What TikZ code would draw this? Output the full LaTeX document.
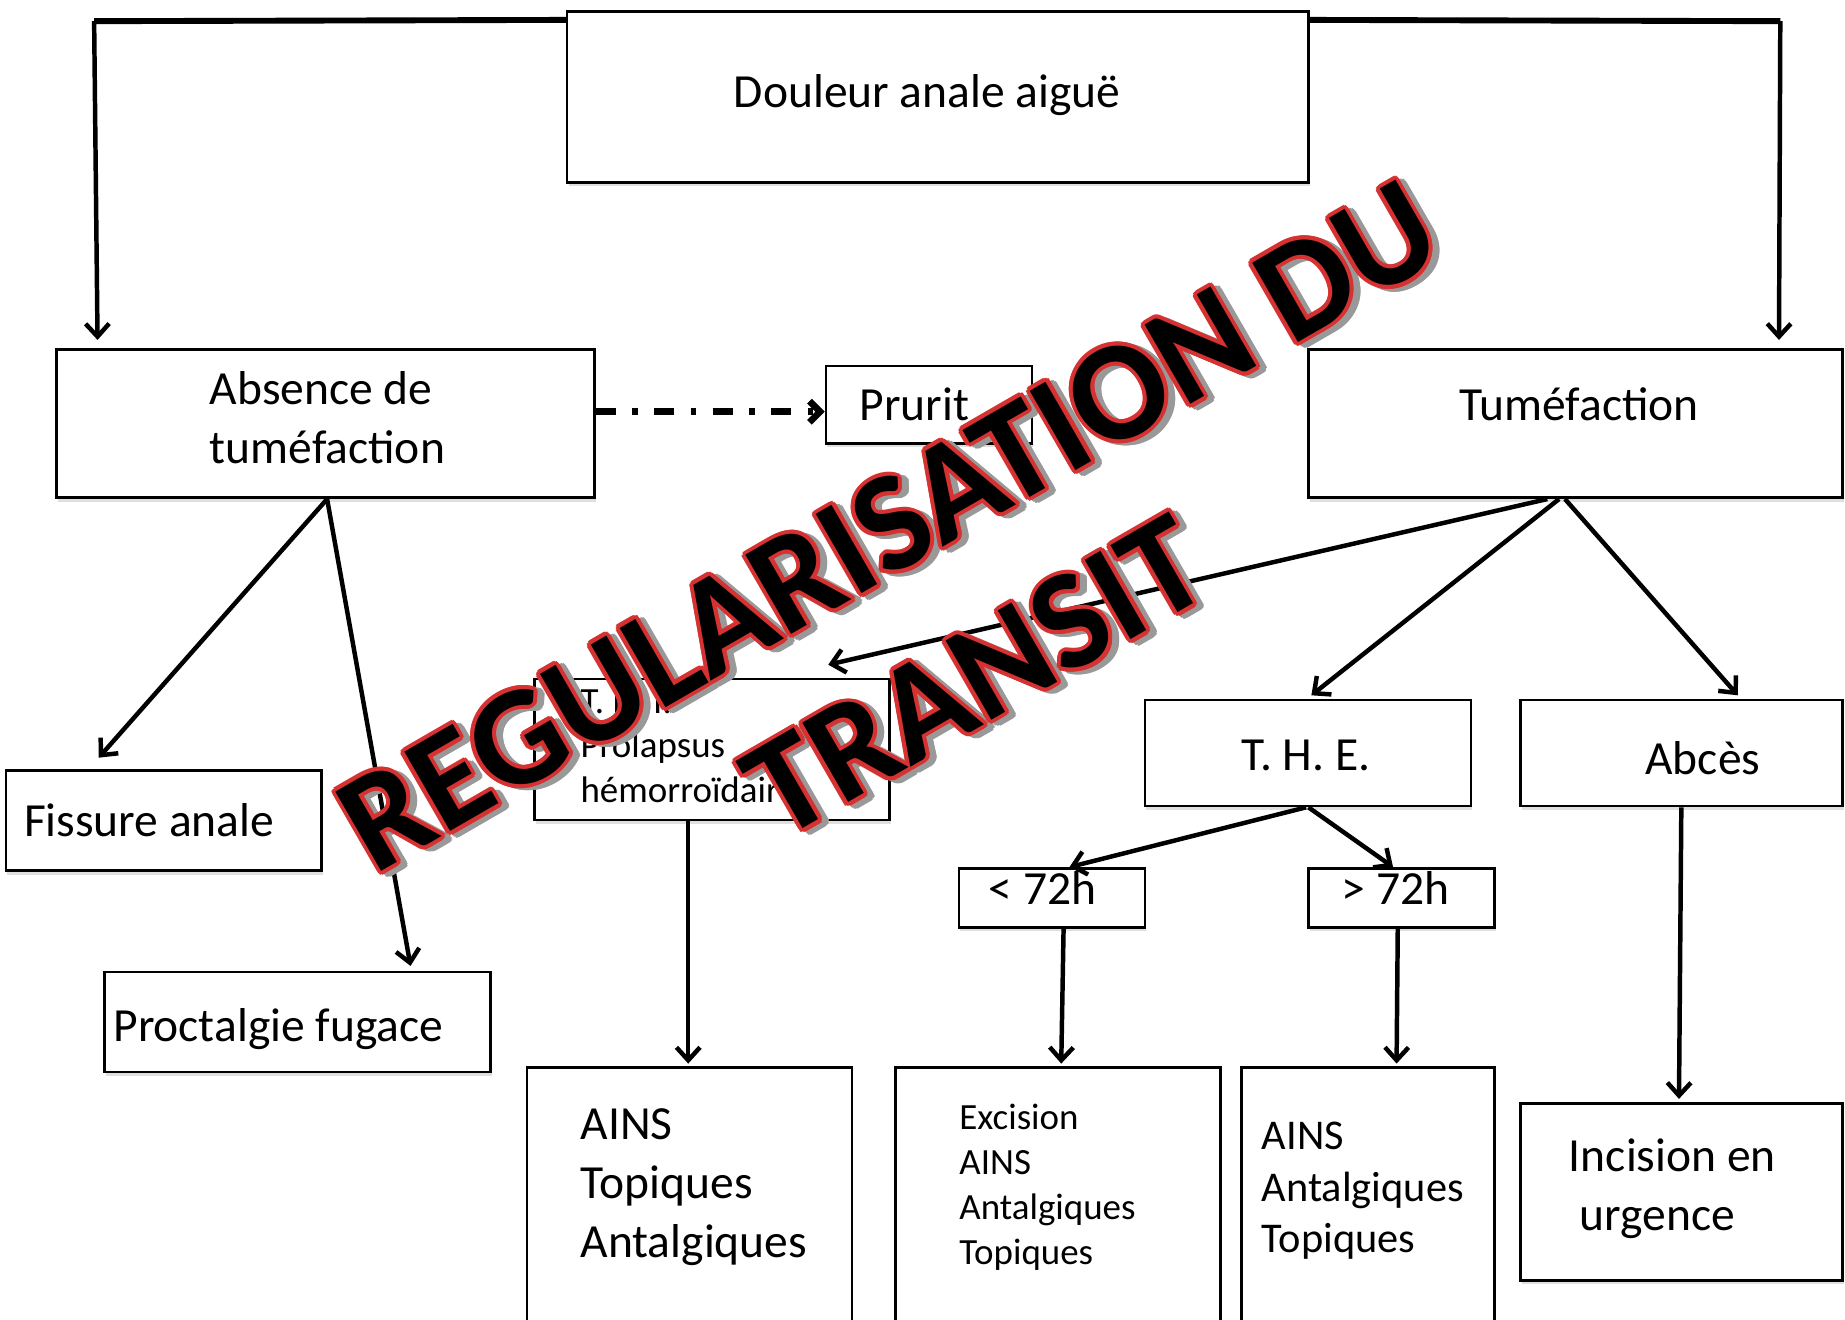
\documentclass[tikz,border=0pt]{standalone}
\usepackage{fontspec}
\setmainfont{Carlito}
\usetikzlibrary{arrows.meta,calc,fit,shadows}
\definecolor{wmred}{RGB}{215,50,50}
\begin{document}
\begin{tikzpicture}[x=0.5pt,y=-0.5pt,
  box/.style={draw=black, line width=1.1pt, fill=white, inner sep=0pt,
    drop shadow={shadow xshift=0.6pt,shadow yshift=-1.6pt,opacity=0.25}},
  txt/.style={inner sep=0pt, font=\fontsize{20.2}{25}\selectfont, align=left},
  sm/.style={inner sep=0pt, font=\fontsize{15.7}{19}\selectfont, align=left},
  md/.style={inner sep=0pt, font=\fontsize{18}{22}\selectfont, align=left},
  arr/.style={line width=1.9pt, -{Straight Barb[length=5.5pt,width=10pt]}},
  topline/.style={line width=2.5pt},
  dashdot/.style={line width=2.8pt, dash pattern=on 8.5pt off 7pt on 2.4pt off 7pt,
    -{Straight Barb[length=4.5pt,width=9pt]}},
  wm/.style={rotate=30, align=center, inner sep=0pt,
    font=\fontsize{60}{74}\selectfont\bfseries}]
\useasboundingbox (0,0) rectangle (1568,1121);

% boxes
\node[box, fit={(482,10)(1112,155)}] (douleur) {};
\node[box, fit={(48,297)(505,423)}] (absence) {};
\node[box, fit={(702,311)(877,377)}] (prurit) {};
\node[box, fit={(1112,297)(1566,423)}] (tumef) {};
\node[box, fit={(5,655)(273,740)}] (fissure) {};
\node[box, fit={(89,826)(417,911)}] (proct) {};
\node[box, fit={(454,577)(756,697)}] (thi) {};
\node[box, fit={(973,595)(1250,685)}] (the) {};
\node[box, fit={(1292,595)(1566,685)}] (abces) {};
\node[box, fit={(815,738)(973,788)}] (lt) {};
\node[box, fit={(1112,738)(1270,788)}] (gt) {};
\node[box, fit={(448,907)(724,1140)}] (ainsa) {};
\node[box, fit={(761,907)(1037,1140)}] (exc) {};
\node[box, fit={(1055,907)(1270,1140)}] (ainsb) {};
\node[box, fit={(1292,938)(1566,1088)}] (incis) {};

% texts
\node[txt, anchor=base] (tdouleur) at (788,91) {Douleur anale aiguë};
\node[txt, anchor=west] (tabsence) at (178,355) {Absence de\\tuméfaction};
\node[txt, anchor=base west] (tprurit) at (730,357) {Prurit};
\node[txt, anchor=base west] (ttumef) at (1240,357) {Tuméfaction};
\node[txt, anchor=base west] (tfissure) at (20,711) {Fissure anale};
\node[txt, anchor=base west] (tproct) at (96,885) {Proctalgie fugace};
\node[sm, anchor=west] (tthi) at (493,634) {T. H. I.\\Prolapsus\\hémorroïdaire};
\node[txt, anchor=base] (tthe) at (1110,655) {T. H. E.};
\node[txt, anchor=base west] (tabces) at (1398,658) {Abcès};
\node[txt, anchor=base west] (tlt) at (840,769) {< 72h};
\node[txt, anchor=base west] (tgt) at (1140,769) {> 72h};
\node[txt, anchor=west] (tainsa) at (493,1009) {AINS\\Topiques\\Antalgiques};
\node[sm, anchor=west] (texc) at (815,1009) {Excision\\AINS\\Antalgiques\\Topiques};
\node[md, anchor=west] (tainsb) at (1072,1012) {AINS\\Antalgiques\\Topiques};
\node[txt, anchor=west] (tincis) at (1333,1010) {Incision en\\\hspace{4.5pt}urgence};

% connectors
\coordinate (tl) at (80,18);
\coordinate (tr) at (1513,18);
\draw[topline] ($(douleur.north west)+(0,8)$) -- (tl);
\draw[arr] (tl) -- ($(absence.north west)+(36,-7)$);
\draw[topline] ($(douleur.north east)+(0,8)$) -- (tr);
\draw[arr] (tr) -- ($(tumef.north west)+(401,-7)$);
\draw[dashdot] ($(absence.north east)+(0,54)$) -- ($(prurit.north west)+(0,40)$);
\draw[arr] ($(absence.south)+(1.5,0)$) -- ($(fissure.north west)+(80,-10)$);
\draw[arr] ($(absence.south)+(1.5,0)$) -- ($(proct.north west)+(261,-4)$);
\draw[arr] ($(tumef.south)+(-24,0)$) -- ($(thi.north west)+(251,-11)$);
\draw[arr] ($(tumef.south)+(-14,0)$) -- ($(the.north)+(3,-3)$);
\draw[arr] ($(tumef.south)+(-9,0)$) -- ($(abces.north west)+(186,-3)$);
\draw[arr] ($(the.south)+(-1.5,0)$) -- ($(lt.north west)+(95,0)$);
\draw[arr] ($(the.south)+(0.5,0)$) -- ($(gt.north west)+(73,0)$);
\draw[arr] ($(thi.south west)+(132,0)$) -- ($(ainsa.north west)+(138,-2)$);
\draw[arr] ($(lt.south west)+(90,0)$) -- ($(exc.north west)+(142,-2)$);
\draw[arr] ($(gt.south west)+(77,0)$) -- ($(ainsb.north west)+(133,-2)$);
\draw[arr] ($(abces.south west)+(138,0)$) -- ($(incis.north west)+(136,-3)$);

% watermark
\foreach \a in {0,22.5,...,337.5}{
  \node[wm, text=black!40, shift={(\a:1.7pt)}, xshift=2pt, yshift=-2.4pt] at (792,511) {REGULARISATION DU\\TRANSIT};
}
\foreach \a in {0,22.5,...,337.5}{
  \node[wm, text=wmred, shift={(\a:1.7pt)}] at (792,511) {REGULARISATION DU\\TRANSIT};
}
\node[wm, text=black] (wmark) at (792,511) {REGULARISATION DU\\TRANSIT};
\end{tikzpicture}
\end{document}
